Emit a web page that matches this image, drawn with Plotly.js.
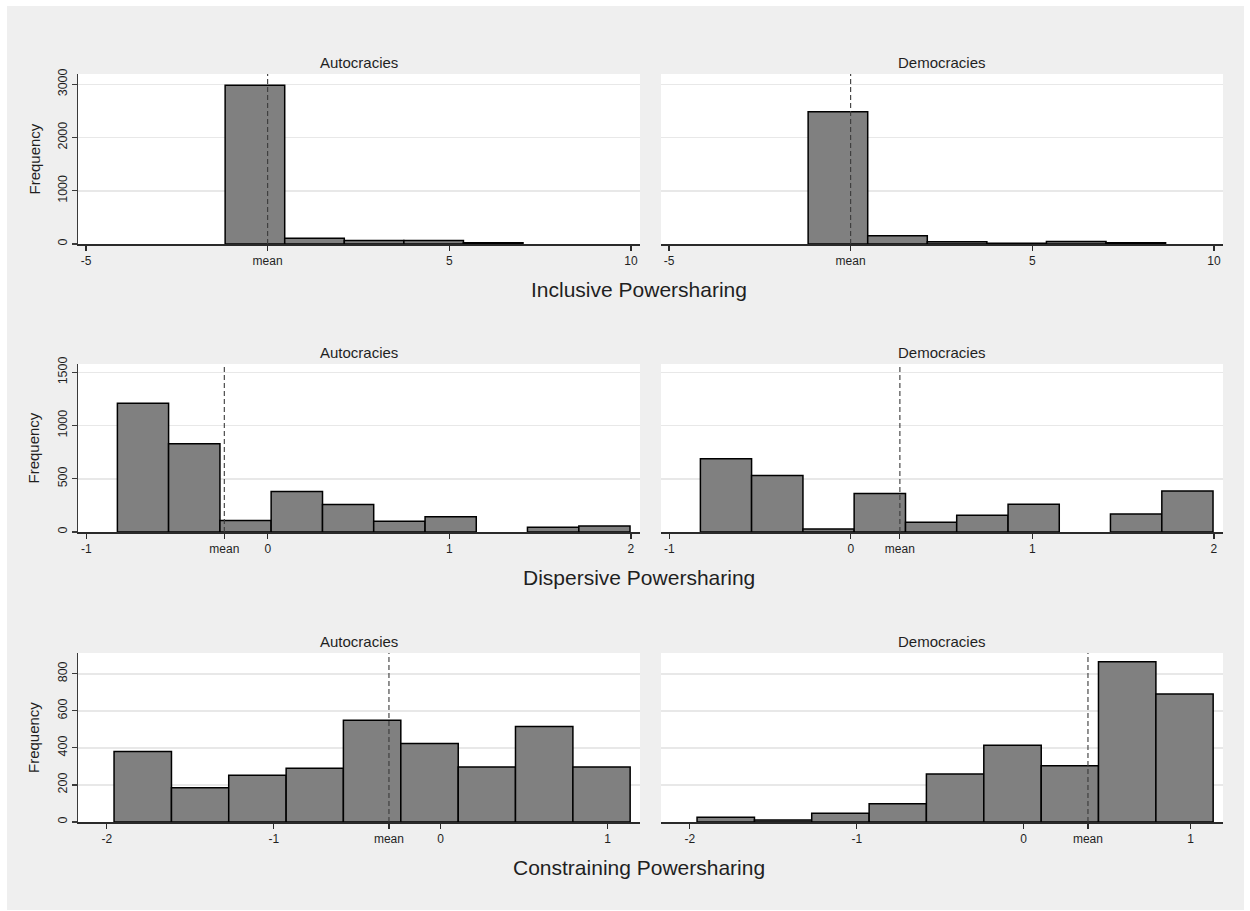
<!DOCTYPE html>
<html>
<head>
<meta charset="utf-8">
<script src="https://cdn.plot.ly/plotly-3.0.1.min.js"></script>
<style>
  html, body { margin: 0; padding: 0; background: #ffffff; }
  #chart { position: absolute; left: 7px; top: 6px; width: 1237px; height: 904px; }
</style>
</head>
<body>
<div id="chart"></div>
<script>
// ---------------- DATA ----------------
const groups = ["Autocracies", "Democracies"];
const variables = ["Inclusive Powersharing", "Dispersive Powersharing", "Constraining Powersharing"];

// histogram bin edges
const inclusiveEdges    = [-1.17, 0.47, 2.11, 3.75, 5.39, 7.03, 8.67];
const dispersiveEdges   = [-0.829, -0.547, -0.264, 0.018, 0.301, 0.583, 0.866, 1.148, 1.430, 1.713, 1.995];
const constrainingEdges = [-1.957, -1.613, -1.270, -0.926, -0.583, -0.239, 0.105, 0.448, 0.792, 1.135];

// frequencies per bin
const inclusiveAut    = [2980, 106, 65, 68, 25, null];
const inclusiveDem    = [2486, 157, 44, 16, 45, 22];
const dispersiveAut   = [1209, 828, 109, 381, 259, 100, 144, null, 44, 56];
const dispersiveDem   = [689, 531, 28, 362, 91, 157, 261, null, 170, 384];
const constrainingAut = [380, 185, 252, 290, 549, 424, 297, 516, 297];
const constrainingDem = [25, 11, 47, 99, 259, 414, 304, 865, 691];

// means (dashed line, labelled "mean")
const inclusiveMeans    = [0.0, 0.0];
const dispersiveMeans   = [-0.24, 0.27];
const constrainingMeans = [-0.31, 0.385];

// axis ticks
const inclusiveXTicks    = [-5, 5, 10];
const dispersiveXTicks   = [-1, 0, 1, 2];
const constrainingXTicks = [-2, -1, 0, 1];
const inclusiveYTicks    = [0, 1000, 2000, 3000];
const dispersiveYTicks   = [0, 500, 1000, 1500];
const constrainingYTicks = [0, 200, 400, 600, 800];

// axis ranges
const inclusiveXRange    = [-5.22, 10.25];
const dispersiveXRange   = [-1.046, 2.05];
const constrainingXRange = [-2.173, 1.194];
const inclusiveYMax    = 3193;
const dispersiveYMax   = 1578;
const constrainingYMax = 912;

// ---------------- LAYOUT HELPERS ----------------
const W = 1237, H = 904, OX = 7, OY = 6;
const px = x => (x - OX) / W;
const py = y => 1 - (y - OY) / H;

const colDomains = [[px(78), px(640)], [px(661), px(1223)]];
const rowPix = [[74, 244], [364, 532], [653, 822]];
const rowDomains = rowPix.map(r => [py(r[1]), py(r[0])]);

const FONT = '"Liberation Sans", Arial, sans-serif';
const TXT = '#1f1f1f';

const rows = [
  {edges: inclusiveEdges, counts: [inclusiveAut, inclusiveDem], means: inclusiveMeans,
   xticks: inclusiveXTicks, yticks: inclusiveYTicks, xr: inclusiveXRange, ymax: inclusiveYMax},
  {edges: dispersiveEdges, counts: [dispersiveAut, dispersiveDem], means: dispersiveMeans,
   xticks: dispersiveXTicks, yticks: dispersiveYTicks, xr: dispersiveXRange, ymax: dispersiveYMax},
  {edges: constrainingEdges, counts: [constrainingAut, constrainingDem], means: constrainingMeans,
   xticks: constrainingXTicks, yticks: constrainingYTicks, xr: constrainingXRange, ymax: constrainingYMax}
];

const traces = [];
const layout = {
  width: W, height: H,
  margin: {l: 0, r: 0, t: 0, b: 0},
  paper_bgcolor: '#efefef',
  plot_bgcolor: '#ffffff',
  showlegend: false,
  font: {family: FONT, color: TXT, size: 12},
  shapes: [],
  annotations: [],
  hovermode: false
};

let axIdx = 0;
rows.forEach((row, ri) => {
  const centers = [], widths = [];
  for (let i = 0; i < row.edges.length - 1; i++) {
    centers.push((row.edges[i] + row.edges[i + 1]) / 2);
    widths.push(row.edges[i + 1] - row.edges[i]);
  }
  groups.forEach((g, gi) => {
    axIdx++;
    const xa = 'x' + (axIdx === 1 ? '' : axIdx);
    const ya = 'y' + (axIdx === 1 ? '' : axIdx);
    const xaKey = 'xaxis' + (axIdx === 1 ? '' : axIdx);
    const yaKey = 'yaxis' + (axIdx === 1 ? '' : axIdx);
    const counts = row.counts[gi];

    traces.push({
      type: 'bar', x: centers.slice(0, counts.length), y: counts, width: widths.slice(0, counts.length),
      xaxis: xa, yaxis: ya,
      marker: {color: '#808080', line: {color: '#000000', width: 1.5}}
    });

    const mean = row.means[gi];
    const tv = row.xticks.concat([mean]);
    const tt = row.xticks.map(String).concat(['mean']);

    layout[xaKey] = {
      domain: colDomains[gi], anchor: ya, range: row.xr,
      showgrid: false, zeroline: false,
      showline: true, linecolor: '#2a2a2a', linewidth: 1.5,
      ticks: 'outside', ticklen: 5, tickwidth: 1.2, tickcolor: '#2a2a2a',
      tickmode: 'array', tickvals: tv, ticktext: tt,
      tickfont: {family: FONT, size: 12, color: TXT},
      fixedrange: true
    };
    const isLeft = gi === 0;
    layout[yaKey] = {
      domain: rowDomains[ri], anchor: xa, range: [0, row.ymax],
      showgrid: true, gridcolor: '#e8e8e8', gridwidth: 1.5,
      zeroline: false,
      showline: isLeft, linecolor: '#3a3a3a', linewidth: 1.5,
      ticks: isLeft ? 'outside' : '', ticklen: 5, tickwidth: 1.2, tickcolor: '#3a3a3a',
      tickmode: 'array', tickvals: row.yticks,
      showticklabels: isLeft, tickangle: -90,
      tickfont: {family: FONT, size: 12.5, color: TXT},
      fixedrange: true
    };

    layout.shapes.push({
      type: 'line', xref: xa, yref: ya + ' domain',
      x0: mean, x1: mean, y0: 0, y1: 1,
      line: {color: '#3a3a3a', width: 1.1, dash: '5px,3px'}
    });

    layout.annotations.push({
      text: g, xref: 'paper', yref: 'paper',
      x: (colDomains[gi][0] + colDomains[gi][1]) / 2, y: py(rowPix[ri][0] - 11.5),
      xanchor: 'center', yanchor: 'middle', showarrow: false,
      font: {family: FONT, size: 15, color: TXT}
    });
  });

  layout.annotations.push({
    text: 'Frequency', xref: 'paper', yref: 'paper',
    x: px(33.5), y: py((rowPix[ri][0] + rowPix[ri][1]) / 2),
    xanchor: 'center', yanchor: 'middle', textangle: -90, showarrow: false,
    font: {family: FONT, size: 15, color: TXT}
  });
  layout.annotations.push({
    text: variables[ri], xref: 'paper', yref: 'paper',
    x: px(639), y: py(rowPix[ri][1] + 45),
    xanchor: 'center', yanchor: 'middle', showarrow: false,
    font: {family: FONT, size: 21, color: TXT}
  });
});

Plotly.newPlot('chart', traces, layout, {displayModeBar: false, staticPlot: true});
</script>
</body>
</html>
